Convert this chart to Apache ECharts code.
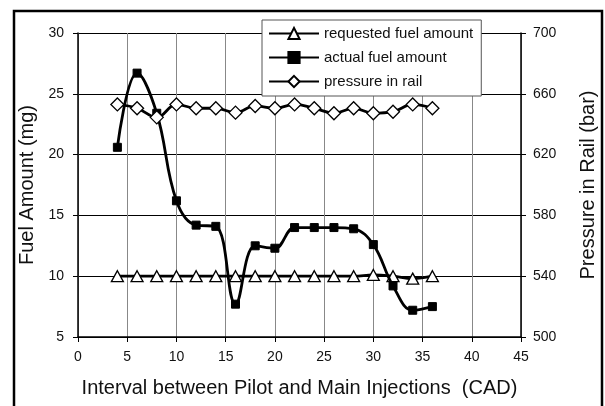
<!DOCTYPE html>
<html>
<head>
<meta charset="utf-8">
<style>
  html, body { margin: 0; padding: 0; background: #fff; }
  #chart { width: 605px; height: 406px; }
</style>
<script src="https://cdn.jsdelivr.net/npm/echarts@6/dist/echarts.min.js"></script>
</head>
<body>
<div id="chart"></div>
<script>
  // interval between pilot and main injections (CAD)
  var intervals = [4, 6, 8, 10, 12, 14, 16, 18, 20, 22, 24, 26, 28, 30, 32, 34, 36];
  // fuel amounts (mg)
  var requestedFuel = [10, 10, 10, 10, 10, 10, 10, 10, 10, 10, 10, 10, 10, 10.1, 10, 9.8, 10];
  var actualFuel = [20.6, 26.7, 23.4, 16.2, 14.2, 14.1, 7.7, 12.5, 12.3, 14.0, 14.0, 14.0, 13.9, 12.6, 9.2, 7.2, 7.5];
  // pressure in rail (bar)
  var railPressure = [653, 650.5, 644.5, 653, 650.5, 650.5, 647.6, 652, 650.5, 653, 650.5, 647.2, 650.5, 647.2, 648.2, 653, 650.5];
  // right axis tick labels
  var pressureTicks = [500, 540, 580, 620, 660, 700];

  var FONT = "'Liberation Sans', Arial, sans-serif";

  function pairs(ys) {
    var out = [];
    for (var i = 0; i < intervals.length; i++) {
      out.push([intervals[i], ys[i]]);
    }
    return out;
  }

  var chart = echarts.init(document.getElementById('chart'));

  var option = {
    backgroundColor: '#fff',
    animation: false,
    textStyle: { fontFamily: FONT },
    graphic: [{
      type: 'rect',
      shape: { x: 14, y: 11, width: 588, height: 420 },
      style: { fill: null, stroke: '#000', lineWidth: 2.5 },
      silent: true
    }],
    grid: {
      left: 78,
      right: 84,
      top: 33,
      bottom: 69,
      outerBoundsMode: 'none'
    },
    legend: {
      orient: 'vertical',
      left: 262,
      top: 20,
      padding: [6, 8, 7, 6],
      itemWidth: 50,
      itemHeight: 14,
      itemGap: 9,
      backgroundColor: '#fff',
      borderColor: '#555',
      borderWidth: 1,
      borderRadius: 0,
      z: 10,
      textStyle: { fontFamily: FONT, fontSize: 15, color: '#111' },
      data: ['requested fuel amount', 'actual fuel amount', 'pressure in rail']
    },
    xAxis: {
      type: 'value',
      min: 0,
      max: 45,
      interval: 5,
      name: 'Interval between Pilot and Main Injections  (CAD)',
      nameLocation: 'middle',
      nameGap: 41,
      nameTextStyle: { fontFamily: FONT, fontSize: 20, color: '#111' },
      axisLine: { show: true, lineStyle: { color: '#000', width: 1.5 } },
      axisTick: { show: true, inside: false, length: 5, lineStyle: { color: '#000' } },
      axisLabel: { margin: 13, fontFamily: FONT, fontSize: 14, color: '#111' },
      splitLine: { show: true, lineStyle: { color: '#888', width: 1 } }
    },
    yAxis: [{
      type: 'value',
      position: 'left',
      min: 5,
      max: 30,
      interval: 5,
      name: 'Fuel Amount (mg)',
      nameLocation: 'middle',
      nameGap: 34,
      nameRotate: 90,
      nameTextStyle: { fontFamily: FONT, fontSize: 20, color: '#111' },
      axisLine: { show: true, lineStyle: { color: '#000', width: 1.5 } },
      axisTick: { show: true, inside: false, length: 5, lineStyle: { color: '#000' } },
      axisLabel: { margin: 14, fontFamily: FONT, fontSize: 14, color: '#111' },
      splitLine: { show: true, lineStyle: { color: '#000', width: 1 } }
    }, {
      type: 'value',
      position: 'right',
      min: 500,
      max: 700,
      name: 'Pressure in Rail (bar)',
      nameLocation: 'middle',
      nameGap: 57,
      nameRotate: 90,
      nameTextStyle: { fontFamily: FONT, fontSize: 20, color: '#111' },
      axisLine: { show: true, lineStyle: { color: '#000', width: 1.5 } },
      axisTick: { show: true, inside: false, length: 5, customValues: pressureTicks, lineStyle: { color: '#000' } },
      axisLabel: { margin: 12, fontFamily: FONT, fontSize: 14, color: '#111', customValues: pressureTicks },
      splitLine: { show: false }
    }],
    series: [{
      name: 'requested fuel amount',
      type: 'line',
      yAxisIndex: 0,
      smooth: 0.4,
      symbol: 'triangle',
      symbolSize: [12, 11],
      showAllSymbol: true,
      lineStyle: { color: '#000', width: 2.8 },
      itemStyle: { color: '#fff', borderColor: '#000', borderWidth: 1.3 },
      data: pairs(requestedFuel),
      z: 3
    }, {
      name: 'actual fuel amount',
      type: 'line',
      yAxisIndex: 0,
      smooth: 0.4,
      symbol: 'rect',
      symbolSize: 8,
      showAllSymbol: true,
      lineStyle: { color: '#000', width: 2.8 },
      itemStyle: { color: '#000', borderColor: '#000', borderWidth: 1 },
      data: pairs(actualFuel),
      z: 4
    }, {
      name: 'pressure in rail',
      type: 'line',
      yAxisIndex: 1,
      smooth: 0.4,
      symbol: 'diamond',
      symbolSize: 13,
      showAllSymbol: true,
      lineStyle: { color: '#000', width: 2.8 },
      itemStyle: { color: '#fff', borderColor: '#000', borderWidth: 1.3 },
      data: pairs(railPressure),
      z: 5
    }]
  };

  chart.setOption(option);
</script>
</body>
</html>
